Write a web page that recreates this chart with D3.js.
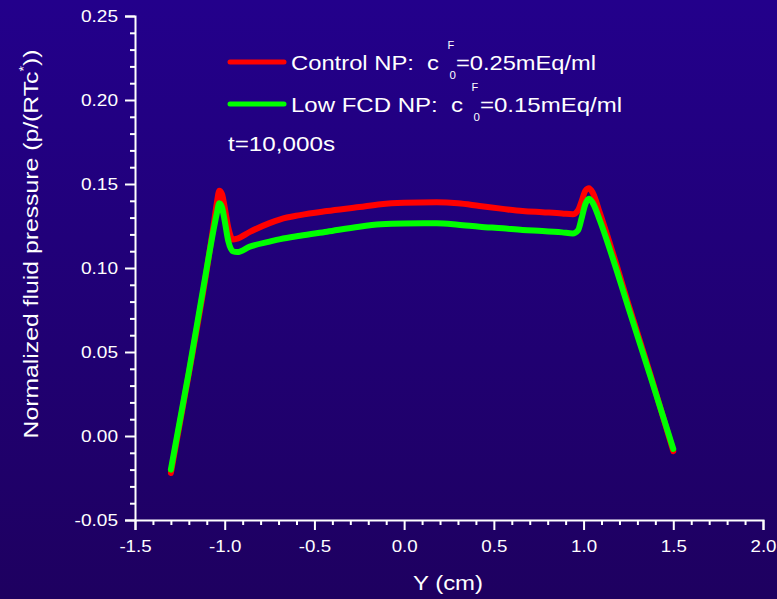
<!DOCTYPE html>
<html>
<head>
<meta charset="utf-8">
<script src="https://cdn.jsdelivr.net/npm/d3@7"></script>
<style>
  html, body { margin: 0; padding: 0; background: #22007a; }
  svg { display: block; }
  text { font-family: "Liberation Sans", Arial, sans-serif; fill: #ffffff; }
</style>
</head>
<body>
<svg id="chart" width="777" height="599"></svg>
<script>
// ---- data ----
const positions = [-1.30,-1.20,-1.10,-1.06,-1.045,-1.03,-1.015,-1.00,-0.98,-0.955,-0.93,-0.86,-0.75,-0.69,-0.58,-0.43,-0.25,-0.13,0.00,0.18,0.30,0.42,0.55,0.66,0.77,0.88,0.94,0.97,0.99,1.01,1.03,1.05,1.09,1.16,1.26,1.38,1.50];
const controlPressure = [-0.022,0.037,0.099,0.127,0.138,0.146,0.144,0.136,0.124,0.117,0.1175,0.1215,0.1267,0.1290,0.1315,0.1339,0.1363,0.1380,0.1388,0.1391,0.1385,0.1369,0.1352,0.1339,0.1332,0.1325,0.1320,0.1345,0.140,0.146,0.1474,0.145,0.133,0.110,0.075,0.034,-0.009];
const lowFcdPressure = [-0.020,0.038,0.100,0.124,0.132,0.1385,0.136,0.128,0.116,0.110,0.1095,0.1127,0.1157,0.1172,0.1192,0.1216,0.1246,0.1260,0.1265,0.1266,0.1258,0.1246,0.1236,0.1226,0.1220,0.1212,0.1206,0.1226,0.130,0.138,0.1412,0.139,0.1286,0.1067,0.073,0.033,-0.0077];
const xTickLabels = ["-1.5","-1.0","-0.5","0.0","0.5","1.0","1.5","2.0"];
const yTickLabels = ["-0.05","0.00","0.05","0.10","0.15","0.20","0.25"];
const seriesNames = ["Control NP:  c", "Low FCD NP:  c"];
const seriesValues = ["=0.25mEq/ml", "=0.15mEq/ml"];
const seriesColors = ["#ff0000", "#00ff00"];

// ---- helpers ----
function stretch(sel, factor) {
  sel.each(function () {
    const L = this.getComputedTextLength();
    d3.select(this).attr("textLength", L * factor).attr("lengthAdjust", "spacingAndGlyphs");
  });
}
function fitWidth(sel, w) {
  sel.attr("textLength", w).attr("lengthAdjust", "spacingAndGlyphs");
}

// ---- layout ----
const svg = d3.select("#chart");
const W = 777, H = 599;

const defs = svg.append("defs");
const grad = defs.append("linearGradient").attr("id", "bg").attr("x1", 0).attr("y1", 0).attr("x2", 0).attr("y2", 1);
grad.append("stop").attr("offset", "0%").attr("stop-color", "#23008b");
grad.append("stop").attr("offset", "100%").attr("stop-color", "#1e0060");
svg.append("rect").attr("width", W).attr("height", H).attr("fill", "url(#bg)");

const x = d3.scaleLinear().domain([-1.5, 2.0]).range([135, 763]);
const y = d3.scaleLinear().domain([-0.05, 0.25]).range([520, 16]);

// ---- axes ----
const xAxis = d3.axisBottom(x).tickValues(xTickLabels.map(Number)).tickSize(10).tickPadding(10)
  .tickFormat((d, i) => xTickLabels[i]);
const gx = svg.append("g").attr("transform", `translate(0,${y(-0.05)})`).call(xAxis);
const xMinor = d3.axisBottom(x).tickValues(d3.range(-15, 21).filter(v => v % 5 !== 0).map(v => v / 10))
  .tickSize(5).tickFormat("");
const gxm = svg.append("g").attr("transform", `translate(0,${y(-0.05)})`).call(xMinor);

const yAxis = d3.axisLeft(y).tickValues(yTickLabels.map(Number)).tickSize(10).tickPadding(7)
  .tickFormat((d, i) => yTickLabels[i]);
const gy = svg.append("g").attr("transform", `translate(${x(-1.5)},0)`).call(yAxis);
const yMinor = d3.axisLeft(y).tickValues(d3.range(-5, 26).filter(v => v % 5 !== 0).map(v => v / 100))
  .tickSize(5).tickFormat("");
const gym = svg.append("g").attr("transform", `translate(${x(-1.5)},0)`).call(yMinor);

[gx, gxm, gy, gym].forEach(g => {
  g.select(".domain").attr("stroke", "#ffffff").attr("stroke-width", 2);
  g.selectAll(".tick line").attr("stroke", "#ffffff").attr("stroke-width", 2);
  g.selectAll(".tick text").attr("fill", "#ffffff").style("font-size", "17px")
    .style("font-family", "'Liberation Sans', Arial, sans-serif");
});
gxm.select(".domain").remove();
gym.select(".domain").remove();
stretch(gx.selectAll(".tick text"), 1.1);
stretch(gy.selectAll(".tick text"), 1.12);

// ---- axis titles ----
const xt = svg.append("text").attr("x", 448).attr("y", 590).attr("text-anchor", "middle")
  .style("font-size", "21px").text("Y (cm)");
fitWidth(xt, 70);

const yl = svg.append("text").attr("transform", "translate(38,244) rotate(-90) scale(1.18,1)")
  .attr("text-anchor", "middle").style("font-size", "21px");
yl.append("tspan").text("Normalized fluid pressure (p/(RTc");
yl.append("tspan").attr("dy", -10).style("font-size", "12px").text("*");
yl.append("tspan").attr("dy", 10).text("))");

// ---- curves ----
const line = d3.line().x(d => x(d[0])).y(d => y(d[1])).curve(d3.curveMonotoneX);
const series = [controlPressure, lowFcdPressure];
series.forEach((vals, i) => {
  svg.append("path")
    .datum(positions.map((p, k) => [p, vals[k]]))
    .attr("fill", "none").attr("stroke", seriesColors[i]).attr("stroke-width", 6)
    .attr("stroke-linecap", "round").attr("stroke-linejoin", "round")
    .attr("d", line);
});

// ---- legend ----
const legendY = [62, 104];
const nameWidths = [148, 172];
const valueWidths = [140, 142];
seriesNames.forEach((name, i) => {
  const ly = legendY[i];
  svg.append("line").attr("x1", 230).attr("x2", 284).attr("y1", ly).attr("y2", ly)
    .attr("stroke", seriesColors[i]).attr("stroke-width", 5).attr("stroke-linecap", "round");
  const t = svg.append("text").attr("x", 291).attr("y", ly + 8)
    .attr("xml:space", "preserve").style("white-space", "pre").style("font-size", "21px").text(name);
  fitWidth(t, nameWidths[i]);
  const sx = 291 + nameWidths[i];
  svg.append("text").attr("x", sx + 8.5).attr("y", ly - 13).style("font-size", "11px").text("F");
  svg.append("text").attr("x", sx + 10.5).attr("y", ly + 16.5).style("font-size", "11.5px").text("0");
  const v = svg.append("text").attr("x", sx + 17).attr("y", ly + 8).style("font-size", "21px").text(seriesValues[i]);
  fitWidth(v, valueWidths[i]);
});
const tt = svg.append("text").attr("x", 228).attr("y", 151).style("font-size", "21px").text("t=10,000s");
fitWidth(tt, 107);
</script>
</body>
</html>
